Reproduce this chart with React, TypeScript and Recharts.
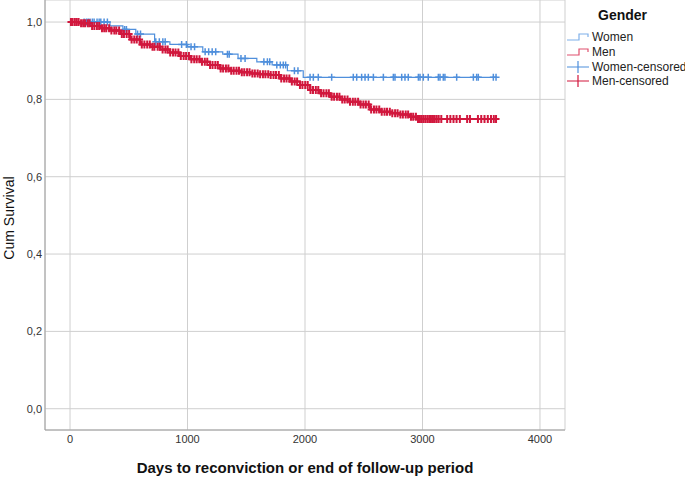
import React from 'react';
import { ComposedChart, Line, Scatter, XAxis, YAxis, CartesianGrid } from 'recharts';

// Kaplan-Meier step points (days, cumulative survival)
const womenTimes = [0, 340, 450, 560, 720, 850, 1000, 1130, 1300, 1430, 1590, 1720, 1850, 1985, 3630];
const womenSurv = [1, 0.99, 0.981, 0.969, 0.949, 0.942, 0.936, 0.923, 0.917, 0.906, 0.897, 0.889, 0.874, 0.857, 0.857];

const menTimes = [0, 85, 170, 255, 340, 426, 511, 596, 681, 766, 851, 936, 1021, 1106, 1191, 1277, 1362, 1447, 1532, 1617, 1702, 1787, 1872, 1957, 2043, 2128, 2213, 2298, 2383, 2468, 2553, 2638, 2723, 2809, 2894, 2953, 3630];
const menSurv = [1, 0.997, 0.99, 0.984, 0.978, 0.969, 0.955, 0.942, 0.936, 0.929, 0.921, 0.912, 0.904, 0.897, 0.889, 0.88, 0.874, 0.87, 0.867, 0.865, 0.863, 0.854, 0.846, 0.837, 0.824, 0.816, 0.807, 0.8, 0.794, 0.787, 0.774, 0.768, 0.764, 0.761, 0.755, 0.749, 0.749];

// censoring times
const womenCensored = [120, 140, 155, 170, 190, 205, 230, 248, 262, 290, 318, 465, 480, 575, 600, 730, 760, 790, 810, 950, 990, 1030, 1060, 1150, 1180, 1210, 1240, 1340, 1355, 1455, 1490, 1650, 1680, 1700, 1760, 1790, 1815, 1835, 1910, 1940, 2043, 2071, 2113, 2227, 2411, 2440, 2482, 2511, 2539, 2582, 2667, 2752, 2766, 2823, 2851, 2879, 2965, 2979, 3007, 3049, 3135, 3149, 3177, 3191, 3291, 3433, 3461, 3475, 3603, 3626];
const menCensored = [8, 22, 41, 57, 73, 94, 112, 128, 151, 166, 188, 207, 229, 248, 272, 291, 308, 333, 352, 377, 394, 418, 441, 459, 482, 503, 524, 547, 568, 592, 611, 633, 657, 679, 702, 718, 746, 764, 788, 812, 831, 853, 877, 898, 922, 943, 967, 988, 1012, 1033, 1057, 1078, 1102, 1123, 1147, 1168, 1192, 1213, 1237, 1258, 1282, 1303, 1327, 1348, 1372, 1393, 1417, 1438, 1462, 1483, 1507, 1528, 1552, 1573, 1597, 1618, 1642, 1663, 1687, 1708, 1732, 1753, 1777, 1798, 1822, 1843, 1867, 1888, 1912, 1933, 1957, 1978, 2002, 2023, 2047, 2068, 2092, 2113, 2137, 2158, 2182, 2203, 2227, 2248, 2272, 2293, 2317, 2338, 2362, 2383, 2407, 2428, 2452, 2473, 2497, 2518, 2542, 2563, 2587, 2608, 2632, 2653, 2677, 2698, 2722, 2743, 2767, 2788, 2812, 2833, 2857, 2878, 2902, 2921, 2944, 2962, 2978, 2993, 3008, 3024, 3041, 3057, 3072, 3089, 3104, 3121, 3138, 3160, 3210, 3237, 3264, 3290, 3318, 3380, 3404, 3472, 3500, 3528, 3556, 3583, 3607, 3626];

const xTicks = [0, 1000, 2000, 3000, 4000];
const yTicks = [0, 0.2, 0.4, 0.6, 0.8, 1];

const BLUE = '#4F8FDC';
const RED = '#D1173D';
const FONT = '"Liberation Sans", Arial, sans-serif';

const toSteps = (ts: number[], ss: number[]) => ts.map((t, i) => ({ t, s: ss[i] }));

// survival value of the step curve at time t
const survAt = (ts: number[], ss: number[], t: number) => {
  let v = ss[0];
  for (let i = 0; i < ts.length; i++) {
    if (ts[i] <= t) v = ss[i];
  }
  return v;
};

const womenData = toSteps(womenTimes, womenSurv);
const menData = toSteps(menTimes, menSurv);
const womenMarks = womenCensored.map(t => ({ t, s: survAt(womenTimes, womenSurv, t) }));
const menMarks = menCensored.map(t => ({ t, s: survAt(menTimes, menSurv, t) }));

const plusShape = (color: string, w: number, h: number) => (props: any) => {
  const { cx, cy } = props;
  return (
    <path
      d={`M${cx - 3.5},${cy}H${cx + 3.5}M${cx},${cy - h}V${cy + h}`}
      stroke={color}
      strokeWidth={w}
      fill="none"
    />
  );
};

const StepIcon = ({ color }: { color: string }) => (
  <svg width={24} height={10} style={{ display: 'block', flex: 'none' }}>
    <path d="M1,8H13V2H22V5" stroke={color} strokeWidth={1.2} fill="none" />
  </svg>
);

const CensIcon = ({ color }: { color: string }) => (
  <svg width={24} height={14} style={{ display: 'block', flex: 'none' }}>
    <path d="M1,7H23M12,1V13" stroke={color} strokeWidth={1.2} fill="none" />
  </svg>
);

const legendItems = [
  { label: 'Women', icon: <StepIcon color="#7FB0EA" /> },
  { label: 'Men', icon: <StepIcon color="#E0506E" /> },
  { label: 'Women-censored', icon: <CensIcon color={BLUE} /> },
  { label: 'Men-censored', icon: <CensIcon color={RED} /> },
];

export default function App() {
  return (
    <div style={{ position: 'relative', width: 685, height: 477, background: '#fff', fontFamily: FONT }}>
      <style>{'body{margin:0}'}</style>
      <ComposedChart width={685} height={477} margin={{ top: 0, right: 120, bottom: 0, left: 0 }}>
        <CartesianGrid stroke="#CFCFCF" strokeWidth={1} />
        <XAxis
          type="number"
          dataKey="t"
          domain={[-213, 4213]}
          ticks={xTicks}
          allowDataOverflow
          height={47}
          stroke="#9E9E9E"
          tickLine={false}
          tickSize={3}
          tickMargin={2}
          tick={{ fontSize: 11, fill: '#333', fontFamily: FONT }}
          label={{
            value: 'Days to reconviction or end of follow-up period',
            position: 'insideBottom',
            offset: 4,
            style: { fontSize: 15, fontWeight: 'bold', fill: '#111', fontFamily: FONT },
          }}
        />
        <YAxis
          type="number"
          domain={[-0.055, 1.057]}
          ticks={yTicks}
          allowDataOverflow
          width={45}
          stroke="#9E9E9E"
          tickLine={false}
          tickSize={3}
          tickMargin={0}
          tickFormatter={(v: number) => v.toFixed(1).replace('.', ',')}
          tick={{ fontSize: 11, fill: '#333', fontFamily: FONT }}
          label={{
            content: () => (
              <text
                x={9}
                y={218}
                transform="rotate(-90 9 218)"
                textAnchor="middle"
                dominantBaseline="central"
                style={{ fontSize: 14, fill: '#111', fontFamily: FONT }}
              >
                Cum Survival
              </text>
            ),
          }}
        />
        <Line data={womenData} dataKey="s" type="stepAfter" stroke={BLUE} strokeWidth={1.2} dot={false} isAnimationActive={false} />
        <Line data={menData} dataKey="s" type="stepAfter" stroke={RED} strokeWidth={2} dot={false} isAnimationActive={false} />
        <Scatter data={womenMarks} dataKey="s" shape={plusShape(BLUE, 1.5, 3.5)} isAnimationActive={false} />
        <Scatter data={menMarks} dataKey="s" shape={plusShape(RED, 2, 4)} isAnimationActive={false} />
      </ComposedChart>
      <div style={{ position: 'absolute', left: 566, top: 7, width: 119, whiteSpace: 'nowrap' }}>
        <div style={{ fontSize: 14, lineHeight: '16px', fontWeight: 'bold', color: '#111', marginLeft: 32, marginBottom: 7 }}>Gender</div>
        {legendItems.map(it => (
          <div key={it.label} style={{ display: 'flex', alignItems: 'center', height: 14.7, fontSize: 12, color: '#222' }}>
            {it.icon}
            <span style={{ marginLeft: 2 }}>{it.label}</span>
          </div>
        ))}
      </div>
    </div>
  );
}
